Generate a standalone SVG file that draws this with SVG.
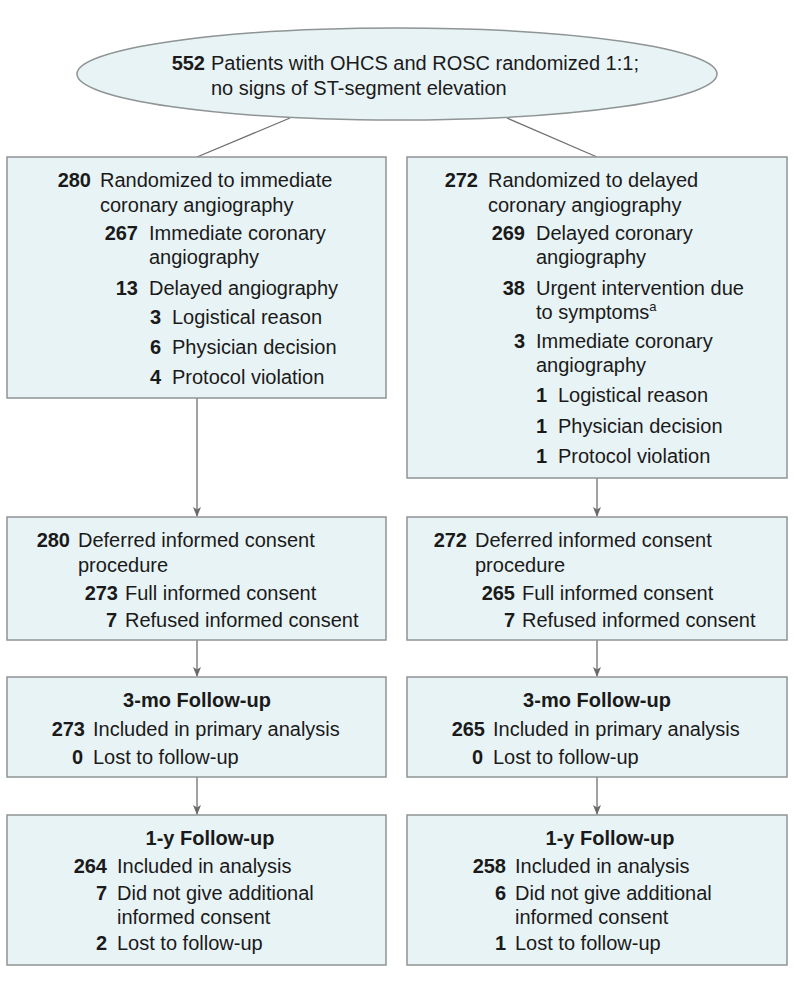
<svg xmlns="http://www.w3.org/2000/svg" width="794" height="986" viewBox="0 0 794 986">
<defs>
<style>
.box{fill:#e8f3f5;stroke:#8f9494;stroke-width:1.5}
.t{font-family:"Liberation Sans",Arial,sans-serif;font-size:20px;fill:#1a1a1a}
.n{font-family:"Liberation Sans",Arial,sans-serif;font-size:20px;font-weight:bold;fill:#1a1a1a;text-anchor:end}
.h{font-family:"Liberation Sans",Arial,sans-serif;font-size:20px;font-weight:bold;fill:#1a1a1a;text-anchor:middle}
.c{stroke:#707070;stroke-width:1.3;fill:none}
</style>
<marker id="ah" markerWidth="10" markerHeight="10" refX="9" refY="5" orient="auto" markerUnits="userSpaceOnUse">
<path d="M0,1 L10,5 L0,9 L2.5,5 Z" fill="#6a6a6a"/>
</marker>
</defs>
<rect width="794" height="986" fill="#ffffff"/>

<g id="connectors">
<line class="c" x1="290" y1="118" x2="197" y2="157"/>
<line class="c" x1="507" y1="118" x2="597" y2="157"/>
<line class="c" x1="197" y1="398" x2="197" y2="516" marker-end="url(#ah)"/>
<line class="c" x1="597" y1="478" x2="597" y2="516" marker-end="url(#ah)"/>
<line class="c" x1="197" y1="640" x2="197" y2="676" marker-end="url(#ah)"/>
<line class="c" x1="597" y1="640" x2="597" y2="676" marker-end="url(#ah)"/>
<line class="c" x1="197" y1="777" x2="197" y2="814" marker-end="url(#ah)"/>
<line class="c" x1="597" y1="777" x2="597" y2="814" marker-end="url(#ah)"/>
</g>

<g id="randomized">
<ellipse class="box" cx="397" cy="74" rx="320" ry="46"/>
<text class="n" x="205" y="70">552</text>
<text class="t" x="211" y="70">Patients with OHCS and ROSC randomized 1:1;</text>
<text class="t" x="211" y="95">no signs of ST-segment elevation</text>
</g>

<g id="immediate">
<rect class="box" x="7" y="157" width="379" height="241"/>
<text class="n" x="91" y="187">280</text>
<text class="t" x="100" y="187">Randomized to immediate</text>
<text class="t" x="100" y="212">coronary angiography</text>
<text class="n" x="138" y="240">267</text>
<text class="t" x="149" y="240">Immediate coronary</text>
<text class="t" x="149" y="264">angiography</text>
<text class="n" x="138" y="295">13</text>
<text class="t" x="149" y="295">Delayed angiography</text>
<text class="n" x="161" y="324">3</text>
<text class="t" x="172" y="324">Logistical reason</text>
<text class="n" x="161" y="354">6</text>
<text class="t" x="172" y="354">Physician decision</text>
<text class="n" x="161" y="384">4</text>
<text class="t" x="172" y="384">Protocol violation</text>
</g>

<g id="delayed">
<rect class="box" x="407" y="157" width="380" height="321"/>
<text class="n" x="478" y="187">272</text>
<text class="t" x="488" y="187">Randomized to delayed</text>
<text class="t" x="488" y="212">coronary angiography</text>
<text class="n" x="525" y="240">269</text>
<text class="t" x="536" y="240">Delayed coronary</text>
<text class="t" x="536" y="264">angiography</text>
<text class="n" x="525" y="295">38</text>
<text class="t" x="536" y="295">Urgent intervention due</text>
<text class="t" x="536" y="319">to symptoms<tspan font-size="13" dy="-8">a</tspan></text>
<text class="n" x="525" y="348">3</text>
<text class="t" x="536" y="348">Immediate coronary</text>
<text class="t" x="536" y="372">angiography</text>
<text class="n" x="547" y="402">1</text>
<text class="t" x="558" y="402">Logistical reason</text>
<text class="n" x="547" y="433">1</text>
<text class="t" x="558" y="433">Physician decision</text>
<text class="n" x="547" y="463">1</text>
<text class="t" x="558" y="463">Protocol violation</text>
</g>

<g id="consent-left">
<rect class="box" x="7" y="517" width="379" height="123"/>
<text class="n" x="70" y="547">280</text>
<text class="t" x="78" y="547">Deferred informed consent</text>
<text class="t" x="78" y="572">procedure</text>
<text class="n" x="118" y="600">273</text>
<text class="t" x="125" y="600">Full informed consent</text>
<text class="n" x="117" y="627">7</text>
<text class="t" x="125" y="627">Refused informed consent</text>
</g>

<g id="consent-right">
<rect class="box" x="407" y="517" width="380" height="123"/>
<text class="n" x="467" y="547">272</text>
<text class="t" x="475" y="547">Deferred informed consent</text>
<text class="t" x="475" y="572">procedure</text>
<text class="n" x="515" y="600">265</text>
<text class="t" x="522" y="600">Full informed consent</text>
<text class="n" x="515" y="627">7</text>
<text class="t" x="522" y="627">Refused informed consent</text>
</g>

<g id="mo3-left">
<rect class="box" x="7" y="677" width="379" height="100"/>
<text class="h" x="197" y="707">3-mo Follow-up</text>
<text class="n" x="85" y="736">273</text>
<text class="t" x="93" y="736">Included in primary analysis</text>
<text class="n" x="83" y="764">0</text>
<text class="t" x="93" y="764">Lost to follow-up</text>
</g>

<g id="mo3-right">
<rect class="box" x="407" y="677" width="380" height="100"/>
<text class="h" x="597" y="707">3-mo Follow-up</text>
<text class="n" x="485" y="736">265</text>
<text class="t" x="493" y="736">Included in primary analysis</text>
<text class="n" x="483" y="764">0</text>
<text class="t" x="493" y="764">Lost to follow-up</text>
</g>

<g id="y1-left">
<rect class="box" x="7" y="815" width="379" height="150"/>
<text class="h" x="210" y="845">1-y Follow-up</text>
<text class="n" x="107" y="873">264</text>
<text class="t" x="117" y="873">Included in analysis</text>
<text class="n" x="107" y="900">7</text>
<text class="t" x="117" y="900">Did not give additional</text>
<text class="t" x="117" y="924">informed consent</text>
<text class="n" x="107" y="950">2</text>
<text class="t" x="117" y="950">Lost to follow-up</text>
</g>

<g id="y1-right">
<rect class="box" x="407" y="815" width="380" height="150"/>
<text class="h" x="610" y="845">1-y Follow-up</text>
<text class="n" x="506" y="873">258</text>
<text class="t" x="515" y="873">Included in analysis</text>
<text class="n" x="506" y="900">6</text>
<text class="t" x="515" y="900">Did not give additional</text>
<text class="t" x="515" y="924">informed consent</text>
<text class="n" x="506" y="950">1</text>
<text class="t" x="515" y="950">Lost to follow-up</text>
</g>
</svg>
